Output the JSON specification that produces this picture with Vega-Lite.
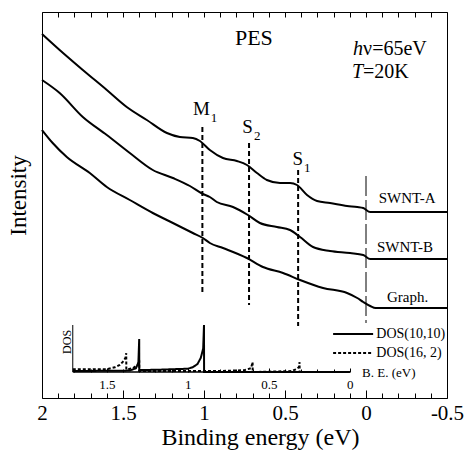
{
  "$schema": "https://vega.github.io/schema/vega-lite/v6.json",
  "width": 405,
  "height": 386,
  "autosize": {"type": "none"},
  "padding": {"left": 42, "top": 12, "right": 22, "bottom": 52},
  "background": "white",
  "config": {
    "view": {"stroke": "black", "strokeWidth": 1},
    "font": "Liberation Serif",
    "text": {"font": "Liberation Serif", "color": "black"},
    "axis": {"labelFont": "Liberation Serif", "titleFont": "Liberation Serif", "labelColor": "black", "titleColor": "black", "tickColor": "black", "titleFontWeight": "normal", "grid": false}
  },
  "datasets": {
    "curves": [
      {"sample": "SWNT-A", "be": 2.0, "intensity": 364},
      {"sample": "SWNT-A", "be": 1.891, "intensity": 348},
      {"sample": "SWNT-A", "be": 1.748, "intensity": 328},
      {"sample": "SWNT-A", "be": 1.6, "intensity": 308},
      {"sample": "SWNT-A", "be": 1.477, "intensity": 291},
      {"sample": "SWNT-A", "be": 1.353, "intensity": 278},
      {"sample": "SWNT-A", "be": 1.229, "intensity": 265},
      {"sample": "SWNT-A", "be": 1.149, "intensity": 261},
      {"sample": "SWNT-A", "be": 1.069, "intensity": 260},
      {"sample": "SWNT-A", "be": 1.025, "intensity": 257},
      {"sample": "SWNT-A", "be": 0.964, "intensity": 248},
      {"sample": "SWNT-A", "be": 0.883, "intensity": 240},
      {"sample": "SWNT-A", "be": 0.797, "intensity": 237},
      {"sample": "SWNT-A", "be": 0.735, "intensity": 233},
      {"sample": "SWNT-A", "be": 0.673, "intensity": 225},
      {"sample": "SWNT-A", "be": 0.612, "intensity": 218},
      {"sample": "SWNT-A", "be": 0.531, "intensity": 215},
      {"sample": "SWNT-A", "be": 0.469, "intensity": 215},
      {"sample": "SWNT-A", "be": 0.426, "intensity": 213},
      {"sample": "SWNT-A", "be": 0.364, "intensity": 203},
      {"sample": "SWNT-A", "be": 0.302, "intensity": 197},
      {"sample": "SWNT-A", "be": 0.222, "intensity": 195},
      {"sample": "SWNT-A", "be": 0.117, "intensity": 192},
      {"sample": "SWNT-A", "be": 0.054, "intensity": 191},
      {"sample": "SWNT-A", "be": 0.017, "intensity": 190},
      {"sample": "SWNT-A", "be": -0.026, "intensity": 186},
      {"sample": "SWNT-A", "be": -0.5, "intensity": 186},
      {"sample": "SWNT-B", "be": 2.0, "intensity": 318},
      {"sample": "SWNT-B", "be": 1.891, "intensity": 305},
      {"sample": "SWNT-B", "be": 1.748, "intensity": 281},
      {"sample": "SWNT-B", "be": 1.6, "intensity": 263},
      {"sample": "SWNT-B", "be": 1.458, "intensity": 245},
      {"sample": "SWNT-B", "be": 1.316, "intensity": 228},
      {"sample": "SWNT-B", "be": 1.192, "intensity": 220},
      {"sample": "SWNT-B", "be": 1.087, "intensity": 212},
      {"sample": "SWNT-B", "be": 1.007, "intensity": 204},
      {"sample": "SWNT-B", "be": 0.964, "intensity": 201},
      {"sample": "SWNT-B", "be": 0.921, "intensity": 196},
      {"sample": "SWNT-B", "be": 0.821, "intensity": 191},
      {"sample": "SWNT-B", "be": 0.729, "intensity": 183},
      {"sample": "SWNT-B", "be": 0.655, "intensity": 175},
      {"sample": "SWNT-B", "be": 0.55, "intensity": 171},
      {"sample": "SWNT-B", "be": 0.469, "intensity": 168},
      {"sample": "SWNT-B", "be": 0.407, "intensity": 161},
      {"sample": "SWNT-B", "be": 0.327, "intensity": 151},
      {"sample": "SWNT-B", "be": 0.222, "intensity": 147},
      {"sample": "SWNT-B", "be": 0.098, "intensity": 145},
      {"sample": "SWNT-B", "be": 0.017, "intensity": 143},
      {"sample": "SWNT-B", "be": -0.026, "intensity": 139},
      {"sample": "SWNT-B", "be": -0.5, "intensity": 139},
      {"sample": "Graph.", "be": 2.0, "intensity": 268},
      {"sample": "Graph.", "be": 1.934, "intensity": 255},
      {"sample": "Graph.", "be": 1.847, "intensity": 241},
      {"sample": "Graph.", "be": 1.705, "intensity": 225},
      {"sample": "Graph.", "be": 1.6, "intensity": 211},
      {"sample": "Graph.", "be": 1.458, "intensity": 198},
      {"sample": "Graph.", "be": 1.316, "intensity": 185},
      {"sample": "Graph.", "be": 1.192, "intensity": 175},
      {"sample": "Graph.", "be": 1.069, "intensity": 165},
      {"sample": "Graph.", "be": 1.007, "intensity": 160},
      {"sample": "Graph.", "be": 0.964, "intensity": 155},
      {"sample": "Graph.", "be": 0.883, "intensity": 150},
      {"sample": "Graph.", "be": 0.735, "intensity": 140},
      {"sample": "Graph.", "be": 0.636, "intensity": 131},
      {"sample": "Graph.", "be": 0.512, "intensity": 125},
      {"sample": "Graph.", "be": 0.407, "intensity": 118},
      {"sample": "Graph.", "be": 0.265, "intensity": 110},
      {"sample": "Graph.", "be": 0.117, "intensity": 105},
      {"sample": "Graph.", "be": 0.054, "intensity": 100},
      {"sample": "Graph.", "be": 0.017, "intensity": 96},
      {"sample": "Graph.", "be": -0.026, "intensity": 92},
      {"sample": "Graph.", "be": -0.06, "intensity": 90},
      {"sample": "Graph.", "be": -0.5, "intensity": 90}
    ],
    "peaklines": [
      {"be": 1.01, "intensity": 271, "bottom": 105},
      {"be": 0.722, "intensity": 255, "bottom": 93},
      {"be": 0.419, "intensity": 228, "bottom": 72}
    ],
    "fermi": [{"be": 0, "intensity": 222, "bottom": 75}],
    "peaklabels": [
      {"t": "M", "s": "1", "be": 0.964, "intensity": 283},
      {"t": "S", "s": "2", "be": 0.698, "intensity": 265},
      {"t": "S", "s": "1", "be": 0.389, "intensity": 233}
    ],
    "curvelabels": [
      {"t": "SWNT-A", "be": -0.254, "intensity": 195},
      {"t": "SWNT-B", "be": -0.241, "intensity": 146},
      {"t": "Graph.", "be": -0.257, "intensity": 96}
    ],
    "title": [{"t": "PES", "be": 0.692, "intensity": 353}],
    "condItalic": [
      {"t": "h", "be": 0.018, "intensity": 343},
      {"t": "T", "be": 0.018, "intensity": 320}
    ],
    "condRest": [
      {"t": "ν=65eV", "be": 0.018, "intensity": 343},
      {"t": "=20K", "be": 0.018, "intensity": 320}
    ],
    "dos": [
      {"series": "DOS(10,10)", "v": 1.71, "d": 0.02},
      {"series": "DOS(10,10)", "v": 1.36, "d": 0.03},
      {"series": "DOS(10,10)", "v": 1.32, "d": 0.08},
      {"series": "DOS(10,10)", "v": 1.305, "d": 0.2},
      {"series": "DOS(10,10)", "v": 1.3, "d": 0.7},
      {"series": "DOS(10,10)", "v": 1.2995, "d": 0.04},
      {"series": "DOS(10,10)", "v": 1.17, "d": 0.05},
      {"series": "DOS(10,10)", "v": 1.0, "d": 0.07},
      {"series": "DOS(10,10)", "v": 0.97, "d": 0.1},
      {"series": "DOS(10,10)", "v": 0.94, "d": 0.17},
      {"series": "DOS(10,10)", "v": 0.92, "d": 0.3},
      {"series": "DOS(10,10)", "v": 0.905, "d": 0.5},
      {"series": "DOS(10,10)", "v": 0.9, "d": 1.0},
      {"series": "DOS(10,10)", "v": 0.8995, "d": 0.0},
      {"series": "DOS(10,10)", "v": 0.0, "d": 0.0},
      {"series": "DOS(16, 2)", "v": 1.71, "d": 0.06},
      {"series": "DOS(16, 2)", "v": 1.5, "d": 0.06},
      {"series": "DOS(16, 2)", "v": 1.45, "d": 0.1},
      {"series": "DOS(16, 2)", "v": 1.42, "d": 0.15},
      {"series": "DOS(16, 2)", "v": 1.4, "d": 0.22},
      {"series": "DOS(16, 2)", "v": 1.385, "d": 0.3},
      {"series": "DOS(16, 2)", "v": 1.38, "d": 0.4},
      {"series": "DOS(16, 2)", "v": 1.3795, "d": 0.05},
      {"series": "DOS(16, 2)", "v": 1.34, "d": 0.08},
      {"series": "DOS(16, 2)", "v": 1.31, "d": 0.15},
      {"series": "DOS(16, 2)", "v": 1.3, "d": 0.25},
      {"series": "DOS(16, 2)", "v": 1.2995, "d": 0.02},
      {"series": "DOS(16, 2)", "v": 0.8, "d": 0.02},
      {"series": "DOS(16, 2)", "v": 0.65, "d": 0.04},
      {"series": "DOS(16, 2)", "v": 0.61, "d": 0.08},
      {"series": "DOS(16, 2)", "v": 0.6, "d": 0.21},
      {"series": "DOS(16, 2)", "v": 0.5995, "d": 0.0},
      {"series": "DOS(16, 2)", "v": 0.36, "d": 0.02},
      {"series": "DOS(16, 2)", "v": 0.33, "d": 0.06},
      {"series": "DOS(16, 2)", "v": 0.315, "d": 0.1},
      {"series": "DOS(16, 2)", "v": 0.31, "d": 0.21},
      {"series": "DOS(16, 2)", "v": 0.3095, "d": 0.0},
      {"series": "DOS(16, 2)", "v": 0.0, "d": 0.0}
    ],
    "doslegend": [
      {"series": "DOS(10,10)", "v": 0.103, "v2": -0.144, "vt": -0.164, "d": 0.809},
      {"series": "DOS(16, 2)", "v": 0.103, "v2": -0.144, "vt": -0.164, "d": 0.404}
    ],
    "dosaxis": [{"v": 1.71, "v2": 0, "d": 0, "d2": 1.0}],
    "dosaxislabel": [{"t": "DOS", "v": 1.747, "d": 0.64}],
    "betitle": [{"t": "B. E. (eV)", "v": -0.076, "d": 0}]
  },
  "layer": [
    {
      "layer": [
        {
          "data": {"name": "curves"},
          "mark": {"type": "line", "color": "black", "strokeWidth": 2, "interpolate": "monotone"},
          "encoding": {
            "x": {"field": "be", "type": "quantitative",
              "scale": {"domain": [-0.5, 2], "reverse": true, "nice": false, "zero": false},
              "axis": {"orient": "bottom", "values": [2, 1.5, 1, 0.5, 0, -0.5], "labelExpr": "toString(datum.value)",
                "domain": false, "tickSize": -8, "tickWidth": 1, "tickColor": "black",
                "labelFont": "Liberation Serif", "labelFontSize": 21, "labelColor": "black", "labelPadding": 12,
                "labelOverlap": false, "labelFlush": false,
                "title": "Binding energy (eV)", "titleFont": "Liberation Serif", "titleFontSize": 24, "titleFontWeight": "normal", "titleColor": "black", "titlePadding": 2, "titleX": 218}},
            "y": {"field": "intensity", "type": "quantitative",
              "scale": {"domain": [0, 386], "nice": false, "zero": false},
              "axis": {"orient": "left", "domain": false, "ticks": false, "labels": false,
                "title": "Intensity", "titleFont": "Liberation Serif", "titleFontSize": 23, "titleFontWeight": "normal", "titleColor": "black", "titlePadding": 12, "titleY": 183}},
            "detail": {"field": "sample"}
          }
        },
        {
          "data": {"name": "peaklines"},
          "mark": {"type": "rule", "color": "black", "strokeWidth": 2, "strokeDash": [5, 3]},
          "encoding": {
            "x": {"field": "be", "type": "quantitative"},
            "y": {"field": "intensity", "type": "quantitative"},
            "y2": {"field": "bottom"}
          }
        },
        {
          "data": {"name": "fermi"},
          "mark": {"type": "rule", "color": "black", "strokeWidth": 1, "strokeDash": [20, 4]},
          "encoding": {
            "x": {"field": "be", "type": "quantitative"},
            "y": {"field": "intensity", "type": "quantitative"},
            "y2": {"field": "bottom"}
          }
        },
        {
          "data": {"name": "peaklabels"},
          "mark": {"type": "text", "align": "right", "baseline": "alphabetic", "fontSize": 19},
          "encoding": {
            "x": {"field": "be", "type": "quantitative"},
            "y": {"field": "intensity", "type": "quantitative"},
            "text": {"field": "t"}
          }
        },
        {
          "data": {"name": "peaklabels"},
          "mark": {"type": "text", "align": "left", "baseline": "alphabetic", "fontSize": 13, "dx": 1, "dy": 7},
          "encoding": {
            "x": {"field": "be", "type": "quantitative"},
            "y": {"field": "intensity", "type": "quantitative"},
            "text": {"field": "s"}
          }
        },
        {
          "data": {"name": "curvelabels"},
          "mark": {"type": "text", "align": "center", "baseline": "alphabetic", "fontSize": 15},
          "encoding": {
            "x": {"field": "be", "type": "quantitative"},
            "y": {"field": "intensity", "type": "quantitative"},
            "text": {"field": "t"}
          }
        },
        {
          "data": {"name": "title"},
          "mark": {"type": "text", "align": "center", "baseline": "alphabetic", "fontSize": 22},
          "encoding": {
            "x": {"field": "be", "type": "quantitative"},
            "y": {"field": "intensity", "type": "quantitative"},
            "text": {"field": "t"}
          }
        },
        {
          "data": {"name": "condItalic"},
          "mark": {"type": "text", "align": "right", "baseline": "alphabetic", "fontSize": 20, "fontStyle": "italic"},
          "encoding": {
            "x": {"field": "be", "type": "quantitative"},
            "y": {"field": "intensity", "type": "quantitative"},
            "text": {"field": "t"}
          }
        },
        {
          "data": {"name": "condRest"},
          "mark": {"type": "text", "align": "left", "baseline": "alphabetic", "fontSize": 20},
          "encoding": {
            "x": {"field": "be", "type": "quantitative"},
            "y": {"field": "intensity", "type": "quantitative"},
            "text": {"field": "t"}
          }
        }
      ]
    },
    {
      "data": {"values": [{"be": 2}]},
      "mark": {"type": "rule", "opacity": 0},
      "encoding": {
        "x": {"field": "be", "type": "quantitative",
          "scale": {"domain": [-0.5, 2], "reverse": true, "nice": false, "zero": false},
          "axis": {"orient": "bottom", "values": [1.9, 1.8, 1.7, 1.6, 1.4, 1.3, 1.2, 1.1, 0.9, 0.8, 0.7, 0.6, 0.4, 0.3, 0.2, 0.1, -0.1, -0.2, -0.3, -0.4],
            "domain": false, "labels": false, "tickSize": -5, "tickWidth": 1, "tickColor": "black", "title": null}}
      }
    },
    {
      "data": {"values": [{"be": 2}]},
      "mark": {"type": "rule", "opacity": 0},
      "encoding": {
        "x": {"field": "be", "type": "quantitative",
          "scale": {"domain": [-0.5, 2], "reverse": true, "nice": false, "zero": false},
          "axis": {"orient": "top", "values": [2, 1.9, 1.8, 1.7, 1.6, 1.5, 1.4, 1.3, 1.2, 1.1, 1, 0.9, 0.8, 0.7, 0.6, 0.5, 0.4, 0.3, 0.2, 0.1, 0, -0.1, -0.2, -0.3, -0.4, -0.5],
            "domain": false, "labels": false, "tickSize": -5, "tickWidth": 1, "tickColor": "black", "title": null}}
      }
    },
    {
      "data": {"values": [{"v": 1.7}]},
      "mark": {"type": "rule", "opacity": 0},
      "encoding": {
        "x": {"field": "v", "type": "quantitative",
          "scale": {"domain": [-0.6, 1.9], "reverse": true, "nice": false, "zero": false},
          "axis": {"orient": "bottom", "offset": -26, "values": [1.7, 1.6, 1.4, 1.3, 1.2, 1.1, 0.9, 0.8, 0.7, 0.6, 0.4, 0.3, 0.2, 0.1],
            "domain": false, "labels": false, "tickSize": -3, "tickWidth": 1, "tickColor": "black", "title": null}}
      }
    },
    {
      "layer": [
        {
          "data": {"name": "dos"},
          "mark": {"type": "line", "color": "black", "strokeWidth": 2, "interpolate": "linear"},
          "encoding": {
            "x": {"field": "v", "type": "quantitative",
              "scale": {"domain": [-0.6, 1.9], "reverse": true, "nice": false, "zero": false},
              "axis": {"orient": "bottom", "offset": -26, "values": [1.5, 1, 0.5, 0],
                "labelExpr": "toString(datum.value)",
                "domain": false, "tickSize": -4, "tickWidth": 1, "tickColor": "black",
                "labelFont": "Liberation Serif", "labelFontSize": 13, "labelColor": "black", "labelPadding": 10,
                "labelOverlap": false, "labelFlush": false, "title": null}},
            "y": {"field": "d", "type": "quantitative",
              "scale": {"domain": [-0.553, 7.66], "nice": false, "zero": false}, "axis": null},
            "strokeDash": {"field": "series", "type": "nominal",
              "scale": {"domain": ["DOS(10,10)", "DOS(16, 2)"], "range": [[1, 0], [3, 2]]},
              "legend": null}
          }
        },
        {
          "data": {"name": "doslegend"},
          "mark": {"type": "rule", "color": "black", "strokeWidth": 2},
          "encoding": {
            "x": {"field": "v", "type": "quantitative"},
            "x2": {"field": "v2"},
            "y": {"field": "d", "type": "quantitative"},
            "strokeDash": {"field": "series", "type": "nominal", "legend": null}
          }
        },
        {
          "data": {"name": "doslegend"},
          "mark": {"type": "text", "align": "left", "baseline": "middle", "fontSize": 14},
          "encoding": {
            "x": {"field": "vt", "type": "quantitative"},
            "y": {"field": "d", "type": "quantitative"},
            "text": {"field": "series"}
          }
        },
        {
          "data": {"name": "dosaxis"},
          "mark": {"type": "rule", "color": "black", "strokeWidth": 1.5},
          "encoding": {
            "x": {"field": "v", "type": "quantitative"},
            "x2": {"field": "v2"},
            "y": {"field": "d", "type": "quantitative"}
          }
        },
        {
          "data": {"name": "dosaxis"},
          "mark": {"type": "rule", "color": "black", "strokeWidth": 1},
          "encoding": {
            "x": {"field": "v", "type": "quantitative"},
            "y": {"field": "d", "type": "quantitative"},
            "y2": {"field": "d2"}
          }
        },
        {
          "data": {"name": "dosaxislabel"},
          "mark": {"type": "text", "align": "center", "baseline": "middle", "fontSize": 12, "angle": 270},
          "encoding": {
            "x": {"field": "v", "type": "quantitative"},
            "y": {"field": "d", "type": "quantitative"},
            "text": {"field": "t"}
          }
        },
        {
          "data": {"name": "betitle"},
          "mark": {"type": "text", "align": "left", "baseline": "middle", "fontSize": 13, "dy": 1},
          "encoding": {
            "x": {"field": "v", "type": "quantitative"},
            "y": {"field": "d", "type": "quantitative"},
            "text": {"field": "t"}
          }
        }
      ]
    }
  ],
  "resolve": {"scale": {"x": "independent", "y": "independent", "strokeDash": "independent"}}
}
